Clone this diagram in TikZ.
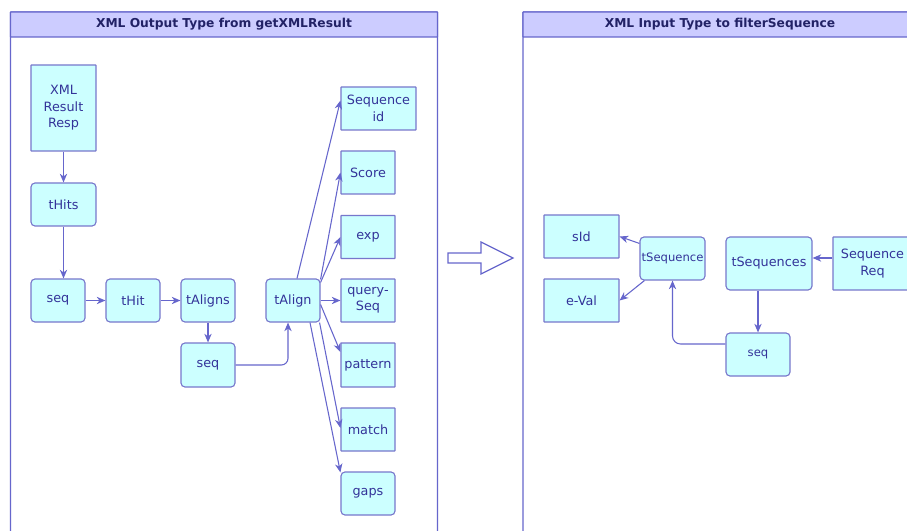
\documentclass[tikz,border=0pt]{standalone}
\usepackage{fontspec}
\setmainfont{DejaVu Sans}
\usetikzlibrary{arrows.meta,calc}
\definecolor{nodefill}{HTML}{CCFFFF}
\definecolor{nodeline}{HTML}{7777CC}
\definecolor{nodetext}{HTML}{333399}
\definecolor{edgecol}{HTML}{6666CC}
\definecolor{hdrfill}{HTML}{CCCCFF}
\definecolor{hdrline}{HTML}{6666CC}
\definecolor{hdrtext}{HTML}{222266}
\def\px{0.75pt}
\tikzset{
  base/.style={draw=nodeline, fill=nodefill, line width=0.85pt, text=nodetext,
    font=\fontsize{9.6}{12.3}\selectfont, align=center, inner sep=0pt},
  sq/.style={base, rounded corners=0.4pt},
  rd/.style={base, rounded corners=3pt},
  sz/.style 2 args={minimum width=#1*\px, minimum height=#2*\px},
  small/.style={font=\fontsize{8.7}{10}\selectfont},
  arr/.style={draw=edgecol, line width=0.8pt, -{Stealth[length=6.5pt,width=5.5pt,inset=2pt]}},
  panel/.style={draw=hdrline, line width=0.9pt, rounded corners=0.3pt},
  hdr/.style={draw=hdrline, fill=hdrfill, line width=0.9pt, rounded corners=0.3pt},
  hdrlbl/.style={text=hdrtext, font=\bfseries\fontsize{9.2}{11}\selectfont},
}
\begin{document}
\begin{tikzpicture}[x=0.75pt,y=-0.75pt]
\clip (0,0) rectangle (907,531);
\fill[white] (0,0) rectangle (907,531);
% panels
\draw[panel] (10.5,12) rectangle (437.5,545);
\draw[hdr] (10.5,12) rectangle (437.5,37);
\node[hdrlbl] (hl) at (224,24.5) {XML Output Type from getXMLResult};
\draw[panel] (523,12) rectangle (915,545);
\draw[hdr] (523,12) rectangle (915,37);
\node[hdrlbl] (hr) at (720,24.5) {XML Input Type to filterSequence};
% big arrow
\draw[draw=edgecol, fill=white, line width=0.9pt]
  (448,253) -- (481,253) -- (481,242) -- (513,258) -- (481,274) -- (481,263) -- (448,263) -- cycle;
% left nodes
\node[sq, sz={65}{86}] (xml) at (63.5,108) {XML\\Result\\Resp};
\node[rd, sz={65}{43}] (tHits) at (63.5,204.5) {tHits};
\node[rd, sz={54}{43}] (seqA) at (58,300.5) {seq};
\node[rd, sz={54}{43}] (tHit) at (133,300.5) {tHit};
\node[rd, sz={54}{43}] (tAligns) at (208,300.5) {tAligns};
\node[rd, sz={54}{44}] (seqB) at (208,365) {seq};
\node[rd, sz={54}{43}] (tAlign) at (293,300.5) {tAlign};
\node[sq, sz={75}{43}] (seqid) at (378.5,108.5) {Sequence\\id};
\node[sq, sz={54}{43}] (score) at (368,172.5) {Score};
\node[sq, sz={54}{43}] (exp) at (368,237) {exp};
\node[sq, sz={54}{43}] (query) at (368,300.5) {query-\\Seq};
\node[sq, sz={54}{44}] (pattern) at (368,365) {pattern};
\node[sq, sz={54}{43}] (match) at (368,429.5) {match};
\node[rd, sz={54}{43}] (gaps) at (368,493.5) {gaps};
% right nodes
\node[sq, sz={75}{43}] (sId) at (581.5,236.5) {sId};
\node[sq, sz={75}{43}] (eVal) at (581.5,300.5) {e-Val};
\node[rd, small, sz={65}{43}] (tSeq) at (672.5,258.5) {tSequence};
\node[rd, sz={86}{53}] (tSeqs) at (769,263.5) {tSequences};
\node[sq, sz={79}{53}] (seqReq) at (872.5,263.5) {Sequence\\Req};
\node[rd, small, sz={64}{43}] (seqR) at (758,354.5) {seq};
% left edges
\draw[arr] (xml.south) -- (tHits.north);
\draw[arr] (tHits.south) -- (tHits.south |- seqA.north);
\draw[arr] (seqA.east) -- (tHit.west);
\draw[arr] (tHit.east) -- (tAligns.west);
\draw[arr] (tAligns.south) -- (seqB.north);
\draw[arr, rounded corners=5pt] (seqB.east) -| ($(tAlign.south)+(-5,0)$);
\draw[arr] ($(tAlign.north)+(4,0)$) -- ($(seqid.west)+(0,-8)$);
\draw[arr] ($(tAlign.north east)+(0,1)$) -- (score.west);
\draw[arr] ($(tAlign.north east)+(0,4)$) -- (exp.west);
\draw[arr] (tAlign.east) -- (query.west);
\draw[arr] ($(tAlign.east)+(0,4)$) -- ($(pattern.west)+(0,-13)$);
\draw[arr] ($(tAlign.south east)+(-1,0)$) -- ($(match.west)+(0,-1.5)$);
\draw[arr] ($(tAlign.south)+(17,0)$) -- ($(gaps.north west)+(0,1)$);
% right edges
\draw[arr] ($(tSeq.north west)+(0,7)$) -- (sId.east);
\draw[arr] ($(tSeq.south west)+(5,0)$) -- (eVal.east);
\draw[arr] ($(seqReq.west)+(0,-5.5)$) -- ($(tSeqs.east)+(0,-5.5)$);
\draw[arr] (seqR.north |- tSeqs.south) -- (seqR.north);
\draw[arr, rounded corners=6pt] ($(seqR.west)+(0,-10.5)$) -| (tSeq.south);
\end{tikzpicture}
\end{document}
